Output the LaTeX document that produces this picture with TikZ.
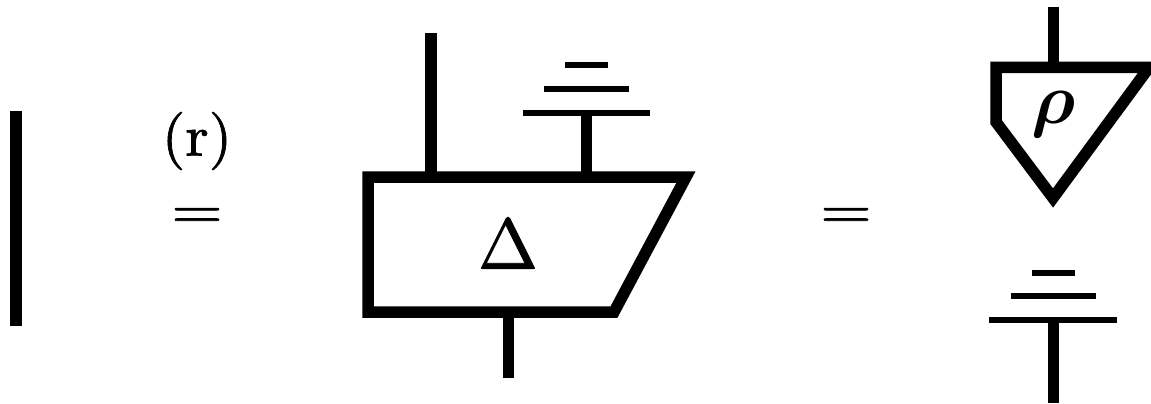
\documentclass[tikz,border=0pt]{standalone}
\usepackage{amsmath}
\usepackage{fontspec}
\newfontfamily\heavyfont[FakeBold=1.2]{Latin Modern Roman}
\tikzset{
  x=1pt,y=-1pt,
  wire/.style={line width=11.5pt,line cap=butt},
  gbar/.style={line width=6pt,line cap=butt},
  box/.style={line width=11.5pt,line join=miter,miter limit=10},
  lab/.style={inner sep=0pt,outer sep=0pt,text=black,transform shape}
}
\begin{document}
\begin{tikzpicture}
\useasboundingbox (0,0) rectangle (1151,404);
\clip (0,0) rectangle (1151,404);
% left wire
\coordinate (l1) at (16,111); \coordinate (l2) at (16,326);
\draw[wire] (l1) -- (l2);
% equals with label
\node[lab,xscale=6,yscale=5.8] (rlab) at (197,141) {\heavyfont (r)};
\node[lab,xscale=6.6,yscale=5.4] (eq1) at (197,218) {\heavyfont =};
\node[lab,xscale=6.6,yscale=5.4] (eq2) at (846,218) {\heavyfont =};
% Delta box
\coordinate (d1) at (368,177); \coordinate (d2) at (686,177);
\coordinate (d3) at (614,312); \coordinate (d4) at (368,312);
\draw[box] (d1) -- (d2) -- (d3) -- (d4) -- cycle;
\node[lab,scale=7.2] (delta) at (508,243) {\heavyfont Δ};
\coordinate (w1t) at (431,33); \coordinate (w1b) at (431,172);
\draw[wire] (w1t) -- (w1b);
\coordinate (w2t) at (586.5,113); \coordinate (w2b) at (586.5,172);
\draw[wire] (w2t) -- (w2b);
\coordinate (w3t) at (508.7,318); \coordinate (w3b) at (508.7,378);
\draw[wire] (w3t) -- (w3b);
\coordinate (g1a) at (523,113); \coordinate (g1b) at (650,113);
\coordinate (g2a) at (544,89); \coordinate (g2b) at (629,89);
\coordinate (g3a) at (565,65); \coordinate (g3b) at (608,65);
\draw[gbar] (g1a) -- (g1b);
\draw[gbar] (g2a) -- (g2b);
\draw[gbar] (g3a) -- (g3b);
% rho state
\coordinate (p1) at (996,67.5); \coordinate (p2) at (1149,67.5);
\coordinate (p3) at (1053,198); \coordinate (p4) at (996,122);
\draw[box] (p1) -- (p2) -- (p3) -- (p4) -- cycle;
\node[lab,scale=7.2] (rho) at (1054,114.5) {$\boldsymbol{\rho}$};
\coordinate (w4t) at (1053.3,7); \coordinate (w4b) at (1053.3,66);
\draw[wire] (w4t) -- (w4b);
% lower ground
\coordinate (h1a) at (989,320); \coordinate (h1b) at (1117,320);
\coordinate (h2a) at (1011,296); \coordinate (h2b) at (1096,296);
\coordinate (h3a) at (1032,272.5); \coordinate (h3b) at (1075,272.5);
\draw[gbar] (h1a) -- (h1b);
\draw[gbar] (h2a) -- (h2b);
\draw[gbar] (h3a) -- (h3b);
\coordinate (w5t) at (1053.3,320); \coordinate (w5b) at (1053.3,403);
\draw[wire] (w5t) -- (w5b);
\end{tikzpicture}
\end{document}
